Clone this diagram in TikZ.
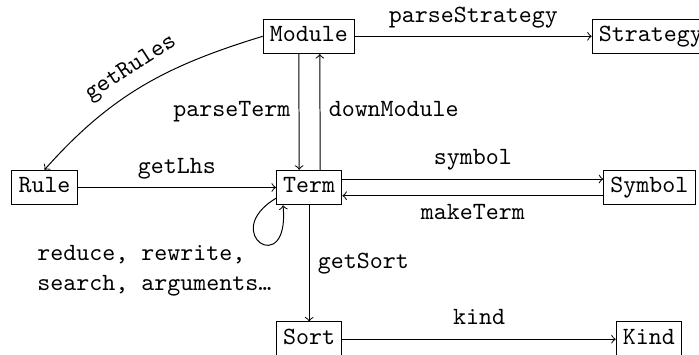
\documentclass[tikz,border=0pt]{standalone}
\usepackage{fontspec}
\usetikzlibrary{calc}
\begin{document}
\begin{tikzpicture}[x=0.4039pt, y=-0.4039pt,
  box/.style={draw, font=\ttfamily, inner xsep=2.7pt, inner ysep=2.8pt, text height=6.11pt, text depth=2.22pt, line width=0.4pt},
  lbl/.style={font=\ttfamily, text height=6.11pt, text depth=2.22pt},
  arr/.style={->, line width=0.4pt}]
\useasboundingbox (0,0) rectangle (699,354);
\clip (0,0) rectangle (699,354);
% boxes
\node[box] (Module) at (308.8,36.3) {Module};
\node[box, anchor=west] (Strategy) at (591.7,36.3) {Strategy};
\node[box] (Rule) at (44.5,187.5) {Rule};
\node[box] (Term) at (309.2,187.5) {Term};
\node[box] (Symbol) at (649.4,187.5) {Symbol};
\node[box] (Sort) at (309.2,339.2) {Sort};
\node[box] (Kind) at (648.9,339.2) {Kind};
% connectors
\draw[arr] (Module) -- node[lbl, above] {parseStrategy} (Strategy);
\draw[arr] ($(Module.south)+(-10,0)$) -- node[lbl, left] {parseTerm} ($(Term.north)+(-10,0)$);
\draw[arr] ($(Term.north)+(11,0)$) -- node[lbl, right] {downModule} ($(Module.south)+(11,0)$);
\draw[arr] (Rule) -- node[lbl, above] {getLhs} (Term);
\draw[arr] ($(Term.east)+(0,-8.5)$) -- node[lbl, above] {symbol} ($(Symbol.west)+(0,-8.5)$);
\draw[arr] ($(Symbol.west)+(0,8.2)$) -- node[lbl, below] {makeTerm} ($(Term.east)+(0,8.2)$);
\draw[arr] (Term) -- node[lbl, right] {getSort} (Sort);
\draw[arr] (Sort) -- node[lbl, above] {kind} (Kind);
\draw[arr] (Module.west) .. controls (167.5,65.4) and (112,94) .. (Rule.north);
\node[lbl, rotate=33] (getRulesLbl) at (131,68.5) {getRules};
\draw[arr] ($(Term.south west)+(0,-7)$) .. controls (218,233) and (290,280) .. ($(Term.south west)+(7,0)$);
\node[font=\ttfamily, align=left, anchor=west, inner sep=0pt] (ops) at (37,271) {reduce, rewrite,\\search, arguments…};
\end{tikzpicture}
\end{document}
